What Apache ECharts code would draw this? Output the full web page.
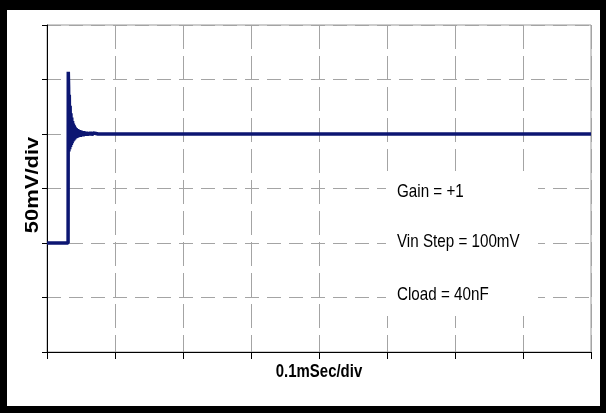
<!DOCTYPE html>
<html>
<head>
<meta charset="utf-8">
<script src="https://cdn.jsdelivr.net/npm/echarts@6/dist/echarts.min.js"></script>
<style>html,body{margin:0;padding:0;background:#fff;}#c{width:606px;height:413px;}</style>
</head>
<body>
<div id="c"></div>
<script>
// time in divisions (0.1 ms/div), voltage in divisions (50 mV/div)
const timeDiv = [0, 0.31, 0.313, 0.318, 0.322, 0.328, 0.334, 0.340, 0.346, 0.352, 0.358, 0.364, 0.370, 0.376, 0.382, 0.388, 0.394, 0.400, 0.406, 0.412, 0.420, 0.428, 0.436, 0.444, 0.452, 0.460, 0.470, 0.480, 0.490, 0.500, 0.510, 0.520, 0.530, 0.540, 0.550, 0.560, 0.570, 0.580, 0.590, 0.600, 0.620, 0.640, 0.660, 0.680, 0.700, 0.720, 0.750, 8];
const voltDiv = [2.0, 2.0, 5.14, 4.85, 3.68, 4.72, 3.72, 4.52, 3.76, 4.38, 3.80, 4.30, 3.83, 4.24, 3.86, 4.19, 3.88, 4.16, 3.90, 4.13, 3.92, 4.11, 3.93, 4.09, 3.94, 4.08, 3.95, 4.07, 3.95, 4.06, 3.96, 4.05, 3.96, 4.05, 3.97, 4.04, 3.97, 4.04, 3.97, 4.03, 3.98, 4.03, 3.98, 4.02, 3.99, 4.01, 4.0, 4.0];
const xAxisName = '0.1mSec/div';
const yAxisName = '50mV/div';
const notes = ['Gain = +1', 'Vin Step = 100mV', 'Cload = 40nF'];

const chart = echarts.init(document.getElementById('c'), null, {renderer: 'canvas'});
const seriesData = timeDiv.map((t, i) => [t, voltDiv[i]]);
const gridColor = '#a4a4a4';
const font = 'Liberation Sans, Arial, sans-serif';

chart.setOption({
  animation: false,
  backgroundColor: '#fff',
  grid: {left: 47, right: 15, top: 25, bottom: 61, show: true, borderColor: '#9a9a9a', borderWidth: 1, backgroundColor: 'transparent'},
  xAxis: {
    type: 'value', min: 0, max: 8, interval: 1,
    axisLine: {show: true, lineStyle: {color: '#000', width: 1}},
    axisTick: {show: true, length: 7, lineStyle: {color: '#000'}},
    axisLabel: {show: false},
    splitLine: {show: true, lineStyle: {color: gridColor, width: 1, type: [24, 7]}}
  },
  yAxis: {
    type: 'value', min: 0, max: 6, interval: 1,
    axisLine: {show: true, lineStyle: {color: '#000', width: 1}},
    axisTick: {show: true, length: 5, lineStyle: {color: '#000'}},
    axisLabel: {show: false},
    splitLine: {show: true, lineStyle: {color: gridColor, width: 1, type: [14, 8]}}
  },
  series: [{
    type: 'line', data: seriesData, showSymbol: false, symbol: 'none',
    lineStyle: {color: '#0c1672', width: 3.5}, z: 5
  }],
  graphic: [
    {type: 'rect', z: 20, shape: {x: 386, y: 171, width: 152, height: 145}, style: {fill: '#fff'}},
    {type: 'text', z: 21, x: 397, y: 192, scaleX: 0.8, style: {text: notes[0], font: '19px ' + font, fill: '#000', textVerticalAlign: 'middle', textAlign: 'left'}},
    {type: 'text', z: 21, x: 397, y: 242, scaleX: 0.8, style: {text: notes[1], font: '19px ' + font, fill: '#000', textVerticalAlign: 'middle', textAlign: 'left'}},
    {type: 'text', z: 21, x: 397, y: 295, scaleX: 0.8, style: {text: notes[2], font: '19px ' + font, fill: '#000', textVerticalAlign: 'middle', textAlign: 'left'}},
    {type: 'text', z: 21, x: 319, y: 372, scaleX: 0.83, style: {text: xAxisName, font: 'bold 18px ' + font, fill: '#000', textVerticalAlign: 'middle', textAlign: 'center'}},
    {type: 'text', z: 21, x: 33, y: 185, rotation: Math.PI / 2, scaleX: 1.22, style: {text: yAxisName, font: 'bold 18px ' + font, fill: '#000', textVerticalAlign: 'middle', textAlign: 'center'}},
    {type: 'rect', z: 30, shape: {x: 0, y: 0, width: 606, height: 10}, style: {fill: '#000'}},
    {type: 'rect', z: 30, shape: {x: 0, y: 0, width: 7, height: 413}, style: {fill: '#000'}},
    {type: 'rect', z: 30, shape: {x: 600, y: 0, width: 6, height: 413}, style: {fill: '#000'}},
    {type: 'rect', z: 30, shape: {x: 0, y: 406, width: 606, height: 7}, style: {fill: '#000'}}
  ]
});
</script>
</body>
</html>
